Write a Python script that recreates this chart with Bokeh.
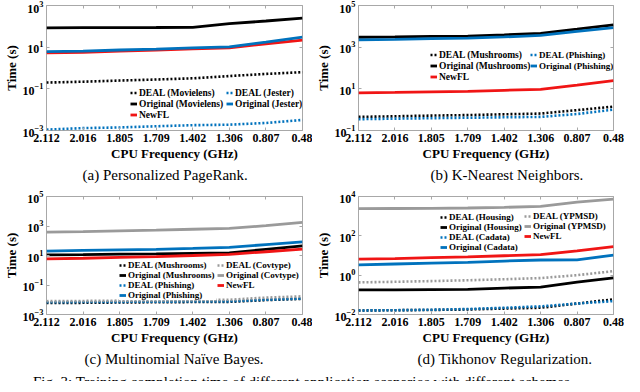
from bokeh.plotting import figure
from bokeh.models import (Range1d, FixedTicker, LogTickFormatter, LinearAxis,
                          Legend, LegendItem, Div)
from bokeh.layouts import column, row
from bokeh.embed import file_html
from bokeh.resources import INLINE

# ---------------- data ----------------
freq_labels = ["2.112", "2.016", "1.805", "1.709", "1.402", "1.306", "0.807", "0.48"]

# (a) Personalized PageRank
pr_deal_movielens = [0.20, 0.22, 0.25, 0.28, 0.32, 0.41, 0.52, 0.63]
pr_orig_movielens = [85, 86, 87, 88, 90, 135, 180, 245]
pr_newfl = [5.3, 5.7, 6.5, 7.2, 8.3, 9.2, 14.5, 22]
pr_deal_jester = [0.0011, 0.0013, 0.0014, 0.0016, 0.0018, 0.0019, 0.0023, 0.0032]
pr_orig_jester = [6.1, 6.5, 7.3, 8.0, 9.3, 10.4, 17.5, 30]

# (b) K-Nearest Neighbors
knn_deal_mushrooms = [0.45, 0.48, 0.52, 0.55, 0.60, 0.65, 0.95, 1.4]
knn_orig_mushrooms = [3000, 3100, 3300, 3400, 3900, 4600, 7300, 11700]
knn_newfl = [6.4, 6.7, 7.2, 7.6, 8.5, 9.4, 15, 25]
knn_deal_phishing = [0.35, 0.37, 0.39, 0.41, 0.43, 0.45, 0.62, 1.0]
knn_orig_phishing = [2250, 2350, 2550, 2700, 3100, 3650, 5700, 8700]

# (c) Multinomial Naive Bayes
nb_deal_mushrooms = [0.0060, 0.0062, 0.0065, 0.0068, 0.0070, 0.0072, 0.0095, 0.0115]
nb_orig_mushrooms = [11, 11.5, 12.5, 13, 14, 15, 26, 45]
nb_deal_phishing = [0.0068, 0.0070, 0.0072, 0.0074, 0.0076, 0.0078, 0.0100, 0.0120]
nb_orig_phishing = [20, 22, 24, 26, 30, 35, 55, 83]
nb_deal_covtype = [0.0080, 0.0083, 0.0087, 0.0090, 0.0095, 0.0100, 0.0140, 0.0170]
nb_orig_covtype = [380, 420, 470, 520, 600, 690, 1050, 1750]
nb_newfl = [5.9, 6.5, 7.5, 8.5, 10, 12, 18, 27]

# (d) Tikhonov Regularization
tk_deal_housing = [0.016, 0.0165, 0.017, 0.018, 0.020, 0.022, 0.036, 0.059]
tk_orig_housing = [0.18, 0.18, 0.185, 0.19, 0.22, 0.245, 0.44, 0.72]
tk_deal_cadata = [0.016, 0.0165, 0.0175, 0.019, 0.022, 0.026, 0.036, 0.048]
tk_orig_cadata = [3.3, 3.7, 4.1, 4.5, 5.2, 5.9, 6.0, 10.5]
tk_deal_ypmsd = [0.43, 0.46, 0.50, 0.55, 0.62, 0.71, 1.0, 1.6]
tk_orig_ypmsd = [2400, 2450, 2500, 2600, 2800, 3150, 5200, 7400]
tk_newfl = [6.6, 7.0, 7.8, 8.5, 9.7, 11, 17, 28]

captions = ["(a) Personalized PageRank.", "(b) K-Nearest Neighbors.",
            "(c) Multinomial Naïve Bayes.", "(d) Tikhonov Regularization."]
fig_caption = "Fig. 3: Training completion time of different application scenarios with different schemes."

# ---------------- style ----------------
BLACK = "#000000"
BLUE = "#0072BD"
RED = "#F01515"
GRAY = "#9A9A9A"
FRAME = "#A8A8A8"
FONT = "Liberation Serif"
DOT = "2 2"
GLYPH_W = 7
STANDOFF = 2

xs = list(range(len(freq_labels)))


def panel(title, title_offset, y_lo, y_hi, y_ticks, series, legend_cols,
          width, height, left, right, top):
    frame_w = width - left - right
    p = figure(width=width, height=height,
               x_range=Range1d(0, len(freq_labels) - 1),
               y_range=Range1d(y_lo, y_hi), y_axis_type="log",
               output_backend="svg", toolbar_location=None,
               title=title, title_location="below",
               min_border_left=left, min_border_right=right,
               min_border_top=top, min_border_bottom=0)
    p.grid.visible = False
    p.outline_line_color = FRAME
    p.outline_line_width = 1
    p.background_fill_color = "white"

    xa = p.xaxis[0]
    xa.ticker = FixedTicker(ticks=xs, minor_ticks=[])
    xa.major_label_overrides = {i: lab for i, lab in enumerate(freq_labels)}
    xa.axis_label = "CPU Frequency (GHz)"
    ya = p.yaxis[0]
    ya.ticker = FixedTicker(ticks=y_ticks, minor_ticks=[])
    ya.formatter = LogTickFormatter()
    ya.axis_label = "Time (s)"
    for ax in (xa, ya):
        ax.axis_line_color = None
        ax.major_tick_in = 3
        ax.major_tick_out = 0
        ax.major_tick_line_color = FRAME
        ax.minor_tick_line_color = None
        ax.major_label_text_font = FONT
        ax.major_label_text_font_style = "bold"
        ax.major_label_text_font_size = "12px"
        ax.major_label_text_color = "black"
        ax.axis_label_text_font = FONT
        ax.axis_label_text_font_style = "bold"
        ax.axis_label_text_font_size = "13px"
        ax.axis_label_text_color = "black"
        ax.axis_label_standoff = 1
        ax.major_label_standoff = 3

    # box ticks on top and right (no labels)
    top_ax = LinearAxis(ticker=FixedTicker(ticks=xs, minor_ticks=[]),
                        major_label_overrides={i: "" for i in xs})
    right_ax = LinearAxis(ticker=FixedTicker(ticks=y_ticks, minor_ticks=[]),
                          major_label_overrides={t: "" for t in y_ticks})
    for ax in (top_ax, right_ax):
        ax.axis_line_color = None
        ax.major_tick_in = 3
        ax.major_tick_out = 0
        ax.major_tick_line_color = FRAME
        ax.minor_tick_line_color = None
        ax.major_label_text_font_size = "2px"
        ax.major_label_text_color = None
        ax.major_label_standoff = 0
    p.add_layout(top_ax, "above")
    p.add_layout(right_ax, "right")

    rends = []
    for vals, color, dotted in series:
        r = p.line(xs, vals, line_color=color,
                   line_width=2.6 if dotted else 2.8,
                   line_dash=DOT if dotted else "solid")
        rends.append(r)

    starts = [loc[0] for _, loc, _, _ in legend_cols] + [frame_w]
    for k, (items, (lx, ly), row_h, fsize) in enumerate(legend_cols):
        lw = starts[k + 1] - lx - GLYPH_W - STANDOFF - 1
        leg = Legend(items=[LegendItem(label=lab, renderers=[rends[i]]) for lab, i in items],
                     location=(lx, ly), orientation="vertical",
                     background_fill_color="white", background_fill_alpha=1.0,
                     border_line_color=None, padding=0, spacing=0, margin=0,
                     glyph_width=GLYPH_W, glyph_height=row_h, label_height=row_h,
                     label_width=lw,
                     label_standoff=STANDOFF, label_text_font=FONT,
                     label_text_font_style="bold", label_text_font_size=fsize,
                     label_text_color="black")
        p.add_layout(leg)

    p.title.align = "left"
    p.title.offset = title_offset
    p.title.text_font = FONT
    p.title.text_font_style = "normal"
    p.title.text_font_size = "15px"
    p.title.text_color = "black"
    p.title.standoff = 3
    return p


pa = panel(captions[0], 36, 1e-3, 1e3, [1e-3, 1e-1, 1e1, 1e3],
           [(pr_deal_movielens, BLACK, True), (pr_orig_movielens, BLACK, False),
            (pr_newfl, RED, False), (pr_deal_jester, BLUE, True),
            (pr_orig_jester, BLUE, False)],
           [([("DEAL (Movielens)", 0), ("Original (Movielens)", 1), ("NewFL", 2)], (84, 10), 11, "9.5px"),
            ([("DEAL (Jester)", 3), ("Original (Jester)", 4)], (180, 21), 11, "9.5px")],
           width=312, height=184, left=31, right=10, top=5)

pb = panel(captions[1], 72, 1e-1, 1e5, [1e-1, 1e1, 1e3, 1e5],
           [(knn_deal_mushrooms, BLACK, True), (knn_orig_mushrooms, BLACK, False),
            (knn_newfl, RED, False), (knn_deal_phishing, BLUE, True),
            (knn_orig_phishing, BLUE, False)],
           [([("DEAL (Mushrooms)", 0), ("Original (Mushrooms)", 1), ("NewFL", 2)], (72, 48), 11, "9.5px"),
            ([("DEAL (Phishing)", 3), ("Original (Phishing)", 4)], (172, 59), 11, "9px")],
           width=312, height=184, left=33, right=11, top=5)

pc = panel(captions[2], 38, 1e-3, 1e5, [1e-3, 1e-1, 1e1, 1e3, 1e5],
           [(nb_deal_mushrooms, BLACK, True), (nb_orig_mushrooms, BLACK, False),
            (nb_deal_phishing, BLUE, True), (nb_orig_phishing, BLUE, False),
            (nb_deal_covtype, GRAY, True), (nb_orig_covtype, GRAY, False),
            (nb_newfl, RED, False)],
           [([("DEAL (Mushrooms)", 0), ("Original (Mushrooms)", 1),
              ("DEAL (Phishing)", 2), ("Original (Phishing)", 3)], (73, 14), 10, "9px"),
            ([("DEAL (Covtype)", 4), ("Original (Covtype)", 5), ("NewFL", 6)], (171, 24), 10, "9px")],
           width=312, height=184, left=31, right=10, top=10)

pd_ = panel(captions[3], 59, 1e-2, 1e4, [1e-2, 1e0, 1e2, 1e4],
            [(tk_deal_housing, BLACK, True), (tk_orig_housing, BLACK, False),
             (tk_deal_cadata, BLUE, True), (tk_orig_cadata, BLUE, False),
             (tk_deal_ypmsd, GRAY, True), (tk_orig_ypmsd, GRAY, False),
             (tk_newfl, RED, False)],
            [([("DEAL (Housing)", 0), ("Original (Housing)", 1),
               ("DEAL (Cadata)", 2), ("Original (Cadata)", 3)], (82, 62), 10, "9px"),
             ([("DEAL (YPMSD)", 4), ("Original (YPMSD)", 5), ("NewFL", 6)], (166, 73), 10, "9px")],
            width=312, height=184, left=33, right=11, top=12)

cap = Div(text=fig_caption, width=624, height=8,
          styles={"overflow": "hidden", "font-family": FONT, "font-size": "15px",
                  "line-height": "18px", "white-space": "nowrap",
                  "padding-left": "28px", "color": "black"})

layout = column(row(pa, pb), row(pc, pd_), cap)

open("out.html", "w").write(file_html(layout, INLINE))
